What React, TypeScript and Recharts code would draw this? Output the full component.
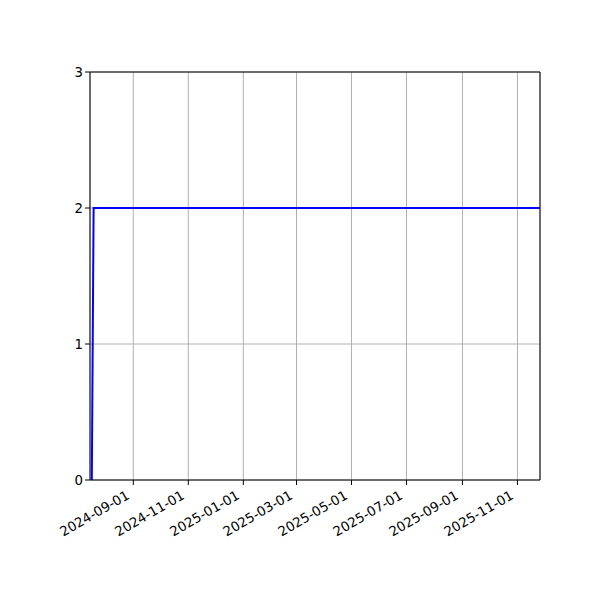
import { LineChart, Line, XAxis, YAxis, CartesianGrid, ReferenceLine } from 'recharts';

const dates = ['2024-07-17', '2024-07-19', '2025-11-26'];
const counts = [0, 2, 2];
const xTicks = [
  '2024-09-01', '2024-11-01', '2025-01-01', '2025-03-01',
  '2025-05-01', '2025-07-01', '2025-09-01', '2025-11-01',
];
const yTicks = [0, 1, 2, 3];
const xStart = '2024-07-15';
const xEnd = '2025-11-26';

const ts = (d: string) => new Date(d + 'T00:00:00Z').getTime();

const data = dates.map((d, i) => ({ t: ts(d), v: counts[i] }));

const fmt = (t: number) => new Date(t).toISOString().slice(0, 10);

const DateTick = (props: any) => {
  const { x, y, payload } = props;
  const ax = x - 3;
  const ay = y + 11;
  return (
    <text
      x={ax}
      y={ay}
      textAnchor="end"
      fontSize={13.3}
      fill="#000"
      fontFamily="DejaVu Sans"
      transform={`rotate(-30, ${ax}, ${ay})`}
    >
      {fmt(payload.value)}
    </text>
  );
};

export default function App() {
  return (
    <div style={{ width: 592, height: 592 }}>
      <LineChart
        width={592}
        height={592}
        data={data}
        margin={{ top: 64, right: 60, bottom: 60, left: 42 }}
      >
        <CartesianGrid stroke="#b0b0b0" strokeWidth={1} />
        <XAxis
          dataKey="t"
          type="number"
          scale="time"
          domain={[ts(xStart), ts(xEnd)]}
          ticks={xTicks.map(ts)}
          tick={<DateTick />}
          tickLine={{ stroke: '#000' }}
          tickSize={5}
          axisLine={{ stroke: '#000' }}
          height={60}
          allowDataOverflow
          interval={0}
        />
        <YAxis
          domain={[0, 3]}
          ticks={yTicks}
          tickSize={5}
          tickLine={{ stroke: '#000' }}
          axisLine={{ stroke: '#000' }}
          tick={{ fill: '#000', fontSize: 13.3, fontFamily: 'DejaVu Sans' }}
          width={40}
          interval={0}
        />
        <ReferenceLine y={3} stroke="#000" strokeWidth={1} />
        <ReferenceLine x={ts(xEnd)} stroke="#000" strokeWidth={1} />
        <Line
          dataKey="v"
          type="linear"
          stroke="#0000ff"
          strokeWidth={2}
          dot={false}
          isAnimationActive={false}
        />
      </LineChart>
    </div>
  );
}
